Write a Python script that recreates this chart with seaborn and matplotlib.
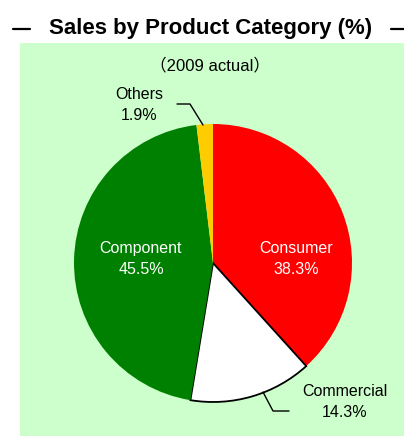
import matplotlib
matplotlib.use('Agg')
import matplotlib.pyplot as plt
from matplotlib.lines import Line2D
import seaborn as sns

# data
categories = ['Consumer', 'Commercial', 'Component', 'Others']
shares = [38.3, 14.3, 45.5, 1.9]
slice_colors = ['#FF0000', '#FFFFFF', '#008000', '#FFCC00']
title = 'Sales by Product Category (%)'
subtitle = '（2009 actual）'

sns.set_style('white')
plt.rcParams['font.family'] = ['Liberation Sans', 'Noto Sans CJK JP', 'DejaVu Sans']
plt.rcParams['text.color'] = 'black'

W, H = 404, 436
fig = plt.figure(figsize=(W / 100, H / 100), dpi=100)
fig.patch.set_facecolor('white')

# green panel, axes units = pixels
ax = fig.add_axes([20 / W, 0, (W - 20) / W, (H - 43) / H])
ax.add_patch(plt.Rectangle((20, 0), W - 20, H - 43, facecolor='#CCFFCC',
                           edgecolor='none', zorder=0))

cx, cy, r = 213, H - 263, 139
wedges, _ = ax.pie(shares, colors=slice_colors, startangle=90, counterclock=False,
                   center=(cx, cy), radius=r, frame=True,
                   wedgeprops=dict(linewidth=0))
for w, c in zip(wedges, slice_colors):
    if c == '#FFFFFF':
        w.set_edgecolor('black')
        w.set_linewidth(1.3)
ax.set_xlim(20, W)
ax.set_ylim(0, H - 43)
ax.set_aspect('equal')
ax.axis('off')

def py(y):
    return H - y

lab_fs = 11.5
ls = 1.45
ax.text(296, py(259), f'{categories[0]}\n{shares[0]}%', color='white',
        ha='center', va='center', fontsize=lab_fs, linespacing=ls)
ax.text(141, py(259), f'{categories[2]}\n{shares[2]}%', color='white',
        ha='center', va='center', fontsize=lab_fs, linespacing=ls)
ax.text(139, py(105), f'{categories[3]}\n{shares[3]}%', color='black',
        ha='center', va='center', fontsize=lab_fs, linespacing=ls)
ax.text(345, py(402), f'{categories[1]}\n{shares[1]}%', color='black',
        ha='center', va='center', fontsize=lab_fs, linespacing=ls)

# leader lines
ax.plot([203, 190, 177], [py(125), py(104), py(104)], color='black', lw=1)
ax.plot([263, 273, 289], [py(392), py(411), py(411)], color='black', lw=1)

ax.text(210, py(65), subtitle, ha='center', va='center', fontsize=12)

fig.text(211 / W, 1 - 28 / H, title, ha='center', va='center',
         fontsize=16, fontweight='bold')
fig.add_artist(Line2D([13 / W, 30 / W], [1 - 29 / H, 1 - 29 / H],
                      color='black', lw=1.6, transform=fig.transFigure))
fig.add_artist(Line2D([391 / W, 404 / W], [1 - 29 / H, 1 - 29 / H],
                      color='black', lw=1.6, transform=fig.transFigure))

fig.savefig('out.png', dpi=100, facecolor='white')
